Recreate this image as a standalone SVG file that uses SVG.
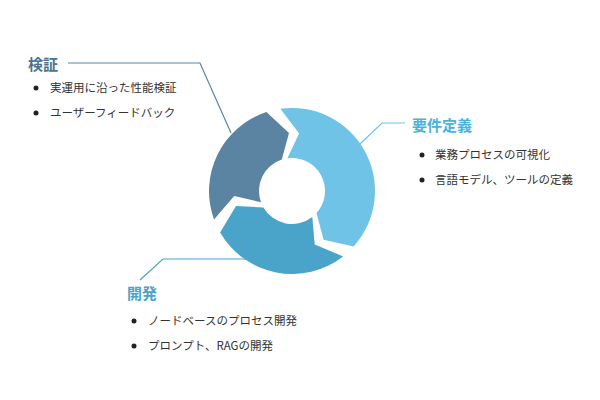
<svg xmlns="http://www.w3.org/2000/svg" width="600" height="400" viewBox="0 0 600 400">
<style>
text{font-family:"Noto Sans CJK JP","Noto Sans",sans-serif}
.t{font-size:15px;font-weight:bold}
.b{font-size:11.5px;fill:#333}
.ln{fill:none;stroke-width:1.2}
</style>
<rect width="600" height="400" fill="#fff"/>
<g id="connectors">
<polyline class="ln" stroke="#5b84a3" points="68,63 200,63 231,133"/>
<polyline class="ln" stroke="#6ec3e6" points="405,123 382,123 360,144"/>
<polyline class="ln" stroke="#4aa3c9" points="140,280 163,259 250,259"/>
</g>
<g id="ring">
<path id="seg-req" fill="#6ec3e6" d="M280.4,108.8 A83,83 0 0 1 353.7,246.5 L323.6,239.7 L316.5,213.1 A33,33 0 0 0 287.4,158.3 L299.1,133.4 Z"/>
<path id="seg-dev" fill="#4aa3c9" d="M343.1,256.4 A83,83 0 0 1 220.1,232.5 L236.0,206.0 L263.4,207.5 A33,33 0 0 0 312.3,217.0 L314.7,244.4 Z"/>
<path id="seg-ver" fill="#5b84a3" d="M214.0,219.4 A83,83 0 0 1 266.4,112.1 L289.0,133.1 L281.8,159.6 A33,33 0 0 0 261.0,202.3 L234.2,196.0 Z"/>
</g>
<g id="verify">
<text class="t" x="28" y="70" fill="#4a7290">検証</text>
<circle cx="36" cy="88" r="2.5" fill="#222"/><text class="b" x="50" y="92">実運用に沿った性能検証</text>
<circle cx="36" cy="113" r="2.5" fill="#222"/><text class="b" x="50" y="117">ユーザーフィードバック</text>
</g>
<g id="requirements">
<text class="t" x="412" y="131" fill="#4ab3dd">要件定義</text>
<circle cx="422" cy="155" r="2.5" fill="#222"/><text class="b" x="435" y="159">業務プロセスの可視化</text>
<circle cx="422" cy="180" r="2.5" fill="#222"/><text class="b" x="435" y="184">言語モデル、ツールの定義</text>
</g>
<g id="develop">
<text class="t" x="127" y="299" fill="#4aa3c9">開発</text>
<circle cx="134" cy="321" r="2.5" fill="#222"/><text class="b" x="148" y="325">ノードベースのプロセス開発</text>
<circle cx="134" cy="346" r="2.5" fill="#222"/><text class="b" x="148" y="350">プロンプト、RAGの開発</text>
</g>
</svg>
